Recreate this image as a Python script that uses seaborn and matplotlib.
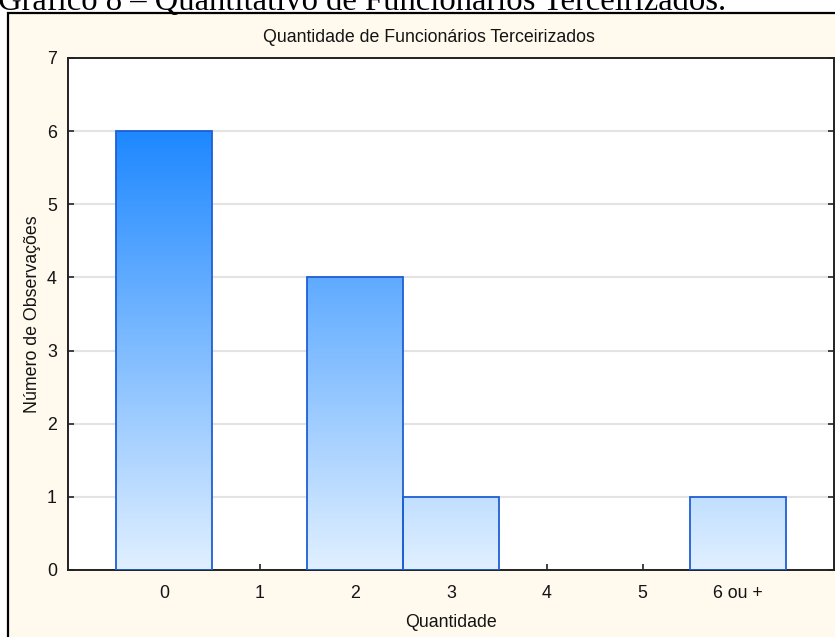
import numpy as np
import pandas as pd
import matplotlib
matplotlib.use("Agg")
import matplotlib.pyplot as plt
from matplotlib.patches import Rectangle
from matplotlib.colors import LinearSegmentedColormap
import seaborn as sns

# Data
categorias = ["0", "1", "2", "3", "4", "5", "6 ou +"]
observacoes = [6, 0, 4, 1, 0, 0, 1]
y_ticks = [0, 1, 2, 3, 4, 5, 6, 7]

titulo_figura = "Gráfico 8 – Quantitativo de Funcionários Terceirizados."
titulo = "Quantidade de Funcionários Terceirizados"
rotulo_x = "Quantidade"
rotulo_y = "Número de Observações"

sns.set_theme(style="white")
plt.rcParams["font.family"] = ["Liberation Sans", "DejaVu Sans"]

W, H = 835, 637
fig = plt.figure(figsize=(W / 100, H / 100), dpi=100, facecolor="white")

# Cream panel with black border behind the chart
panel = Rectangle((8 / W, -0.02), 1.05, 1 - 13 / H + 0.02,
                  transform=fig.transFigure, facecolor="#FFF9EE",
                  edgecolor="black", linewidth=1.6, zorder=-5)
fig.add_artist(panel)

ax = fig.add_axes([68 / W, 1 - 570 / H, (834 - 68) / W, (570 - 58) / H])
ax.set_facecolor("white")

df = pd.DataFrame({"Quantidade": categorias, "Observacoes": observacoes})
sns.barplot(data=df, x="Quantidade", y="Observacoes", order=categorias,
            width=1.0, color="#6aaefc", edgecolor="#1f5fd6", linewidth=1.3,
            ax=ax, zorder=3)

# Vertical gradient fill inside each bar (light at base, saturated at top)
cmap = LinearSegmentedColormap.from_list(
    "azul", [(225 / 255, 240 / 255, 1.0), (30 / 255, 136 / 255, 1.0)])
ymax_grad = max(observacoes)
grad = np.linspace(0, 1, 256).reshape(-1, 1)
for p in list(ax.patches):
    h = p.get_height()
    if h <= 0:
        p.set_visible(False)
        continue
    x0 = p.get_x()
    x1 = x0 + p.get_width()
    im = ax.imshow(grad, cmap=cmap, origin="lower", aspect="auto",
                   extent=[x0, x1, 0, ymax_grad], zorder=2.5,
                   interpolation="bilinear")
    im.set_clip_path(p)
    p.set_facecolor("none")

ax.set_xlim(-1, 7)
ax.set_ylim(0, 7)
ax.set_yticks(y_ticks)
ax.set_xticks(range(len(categorias)))
ax.set_xticklabels(categorias)

ax.yaxis.grid(True, color="#e3e3e3", linewidth=1.5, zorder=0)
ax.set_axisbelow(True)
for s in ax.spines.values():
    s.set_visible(True)
    s.set_color("#222222")
    s.set_linewidth(1.4)

txt = "#141414"
ax.tick_params(axis="both", direction="in", length=4, width=1.3,
               color="#333333", labelsize=12.8, labelcolor=txt)
ax.tick_params(axis="y", right=True, left=True, pad=8)
ax.tick_params(axis="x", bottom=True, top=False, pad=11)

ax.set_xlabel(rotulo_x, fontsize=12.8, color=txt)
ax.set_ylabel(rotulo_y, fontsize=12.8, color=txt, labelpad=4)
ax.xaxis.set_label_coords((451 - 68) / (834 - 68), -(44 / (570 - 58)))

fig.text(429 / W, 1 - 38 / H, titulo, ha="center", va="center",
         fontsize=12.8, color=txt)
fig.text(-2 / W, 1 - 10 / H, titulo_figura, ha="left", va="baseline",
         fontsize=23.5, color="black",
         family=["Liberation Serif", "DejaVu Serif"])

fig.savefig("out.png", dpi=100, facecolor="white")
